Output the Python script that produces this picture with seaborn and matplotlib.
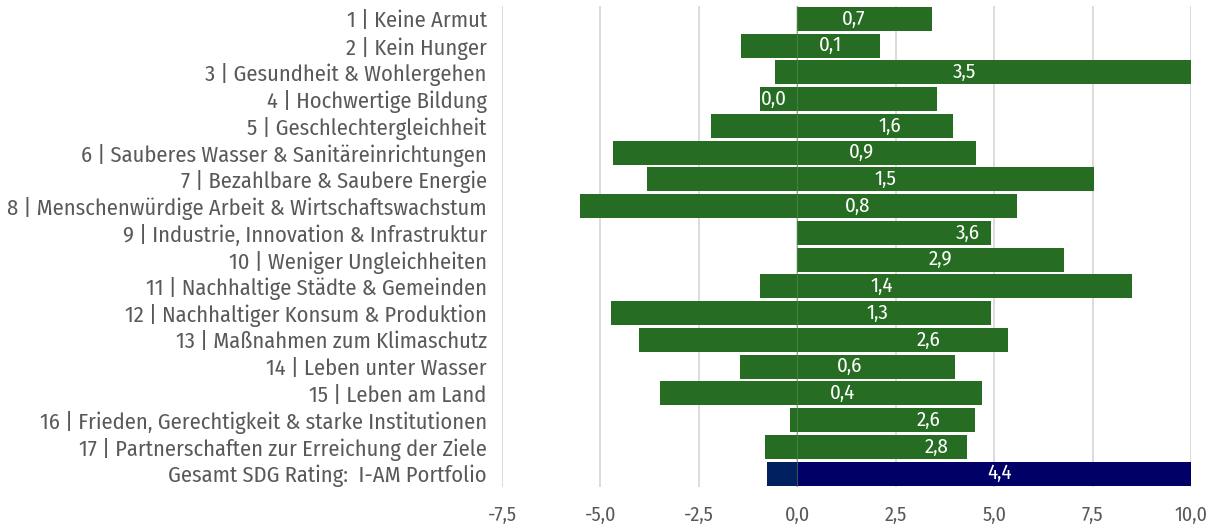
import matplotlib
matplotlib.use("Agg")
import matplotlib.pyplot as plt
from matplotlib import font_manager
from matplotlib.ticker import FuncFormatter
import seaborn as sns
import pandas as pd

categories = [
    "1 | Keine Armut",
    "2 | Kein Hunger",
    "3 | Gesundheit & Wohlergehen",
    "4 | Hochwertige Bildung",
    "5 | Geschlechtergleichheit",
    "6 | Sauberes Wasser & Sanitäreinrichtungen",
    "7 | Bezahlbare & Saubere Energie",
    "8 | Menschenwürdige Arbeit & Wirtschaftswachstum",
    "9 | Industrie, Innovation & Infrastruktur",
    "10 | Weniger Ungleichheiten",
    "11 | Nachhaltige Städte & Gemeinden",
    "12 | Nachhaltiger Konsum & Produktion",
    "13 | Maßnahmen zum Klimaschutz",
    "14 | Leben unter Wasser",
    "15 | Leben am Land",
    "16 | Frieden, Gerechtigkeit & starke Institutionen",
    "17 | Partnerschaften zur Erreichung der Ziele",
    "Gesamt SDG Rating:  I-AM Portfolio",
]
negative = [0.0, -1.42, -0.56, -0.96, -2.18, -4.69, -3.81, -5.53, 0.0, 0.0,
            -0.96, -4.72, -4.01, -1.45, -3.5, -0.18, -0.82, -0.76]
positive = [3.42, 2.1, 10.0, 3.55, 3.96, 4.54, 7.54, 5.58, 4.92, 6.78,
            8.5, 4.92, 5.35, 4.01, 4.7, 4.52, 4.3, 10.0]
net = [0.7, 0.1, 3.5, 0.0, 1.6, 0.9, 1.5, 0.8, 3.6, 2.9,
       1.4, 1.3, 2.6, 0.6, 0.4, 2.6, 2.8, 4.4]
ticks = [-7.5, -5.0, -2.5, 0.0, 2.5, 5.0, 7.5, 10.0]

GREEN = "#266D23"
pos_colors = [GREEN] * 17 + ["#000066"]
neg_colors = [GREEN] * 17 + ["#00205F"]
TEXT = "#595959"

sns.set_theme(style="white")
available = {f.name for f in font_manager.fontManager.ttflist}
fam = "DejaVu Sans"
for cand in ["Fira Sans Condensed", "Open Sans Condensed", "Roboto Condensed",
             "PT Sans Narrow", "Asap Condensed", "Archivo Narrow", "Encode Sans Condensed"]:
    if cand in available:
        fam = cand
        break
plt.rcParams["font.family"] = [fam, "DejaVu Sans"]
plt.rcParams["font.weight"] = "normal"

df = pd.DataFrame({"cat": categories, "neg": negative, "pos": positive, "net": net})

fig = plt.figure(figsize=(12.12, 5.28), dpi=100)
ax = fig.add_axes([0.4142, 0.0777, 0.5685, 0.9117])

for x in ticks:
    ax.axvline(x, color="#D9D9D9", lw=1.3, zorder=0)

sns.barplot(data=df, y="cat", x="pos", hue="cat", palette=pos_colors, orient="h",
            dodge=False, legend=False, width=0.9, ax=ax, zorder=2, saturation=1)
sns.barplot(data=df, y="cat", x="neg", hue="cat", palette=neg_colors, orient="h",
            dodge=False, legend=False, width=0.9, ax=ax, zorder=2, saturation=1)
for p in ax.patches:
    p.set_edgecolor("none")

ax.axvline(0, color="#5a8a57", lw=0.8, alpha=0.6, zorder=3)

for i, (n, lo) in enumerate(zip(net, negative)):
    lbl = f"{n:.1f}".replace(".", ",")
    if n <= 0:
        ax.text(lo + 0.03, i, lbl, ha="left", va="center", color="white", fontsize=15, zorder=4)
    else:
        ax.text(n + 0.74, i, lbl, ha="center", va="center", color="white", fontsize=15, zorder=4)

ax.set_xlim(-7.5, 10.0)
ax.set_ylim(17.5, -0.5)
ax.set_xticks(ticks)
ax.xaxis.set_major_formatter(FuncFormatter(lambda v, _: f"{v:.1f}".replace(".", ",")))
ax.set_xlabel("")
ax.set_ylabel("")
ax.tick_params(axis="x", length=0, pad=13, labelsize=14.5, labelcolor=TEXT)
ax.tick_params(axis="y", length=0, pad=11, labelsize=15, labelcolor=TEXT)
for s in ax.spines.values():
    s.set_visible(False)

# fit the longest category label to the reference width
fig.canvas.draw()
r = fig.canvas.get_renderer()
longest = max(ax.get_yticklabels(), key=lambda t: t.get_window_extent(r).width)
w = longest.get_window_extent(r).width
fs = 15 * 479.0 / w
ax.tick_params(axis="y", labelsize=fs)

fig.savefig("out.png", dpi=100)
